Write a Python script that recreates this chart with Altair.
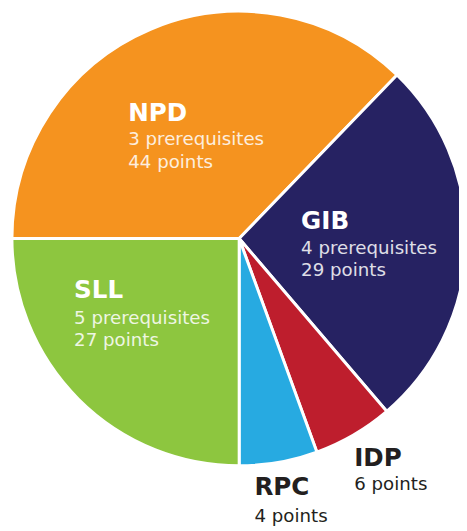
import math
import altair as alt
import pandas as pd

# ---- data ----
categories = ["NPD", "GIB", "IDP", "RPC", "SLL"]
prerequisites = [3, 4, 0, 0, 5]
points = [44, 29, 6, 4, 27]
# slice sizes as drawn in the picture (degrees of the circle)
slice_degrees = [134, 95.5, 20.5, 20, 90]
colors = ["#F5931F", "#262262", "#BE1E2D", "#27AAE1", "#8DC63F"]


def detail_text(p, pts):
    if p:
        return f"{p} prerequisites\n{pts} points"
    return f"{pts} points"


df = pd.DataFrame({
    "cat": categories,
    "slice": slice_degrees,
    "order": list(range(len(categories))),
    "detail": [detail_text(p, v) for p, v in zip(prerequisites, points)],
})

# ---- layout (not data) ----
R = 231
FONT = "DejaVu Sans"
# per label: radius along the slice's mid-angle, dx, dy, title colour, detail colour, detail offset
label_layout = {
    "NPD": (130, -62, 0, "white", "#FFFFFF", 25),
    "GIB": (80, -17, -12, "white", "#FFFFFF", 25),
    "SLL": (110, -90, -17, "white", "#FFFFFF", 26),
    "IDP": (250, -9, 15, "#231F20", "#231F20", 25),
    "RPC": (262, -30, 3, "#231F20", "#231F20", 27),
}

theta = alt.Theta("slice:Q", stack=True,
                  scale=alt.Scale(range=[-math.pi / 2, 3 * math.pi / 2]))
order = alt.Order("order:Q")

base = alt.Chart(df)

pie = base.mark_arc(outerRadius=R, stroke="white", strokeWidth=3).encode(
    theta=theta,
    order=order,
    color=alt.Color("cat:N", scale=alt.Scale(domain=categories, range=colors), legend=None),
)

layers = [pie]
for cat, (r, dx, dy, tcol, dcol, doff) in label_layout.items():
    inside = tcol == "white"
    title = base.mark_text(
        radius=r, dx=dx, dy=dy, align="left", baseline="alphabetic",
        font=FONT, fontSize=25, fontWeight="bold", color=tcol,
    ).encode(
        theta=theta, order=order,
        text=alt.condition(alt.datum.cat == cat, "cat:N", alt.value("")),
    )
    detail = base.mark_text(
        radius=r, dx=dx, dy=dy + doff, align="left", baseline="alphabetic",
        font=FONT, fontSize=18.5, color=dcol, opacity=0.85 if inside else 1.0,
        lineBreak="\n", lineHeight=23,
    ).encode(
        theta=theta, order=order,
        text=alt.condition(alt.datum.cat == cat, "detail:N", alt.value("")),
    )
    layers += [title, detail]

chart = alt.layer(*layers).properties(
    width=447, height=460,
    autosize=alt.AutoSizeParams(type="none"),
    padding={"left": 11.5, "top": 0, "right": 0, "bottom": 62},
    background="white",
).configure_view(stroke=None)

chart.save("out.html", embed_options={"renderer": "svg", "actions": False})
